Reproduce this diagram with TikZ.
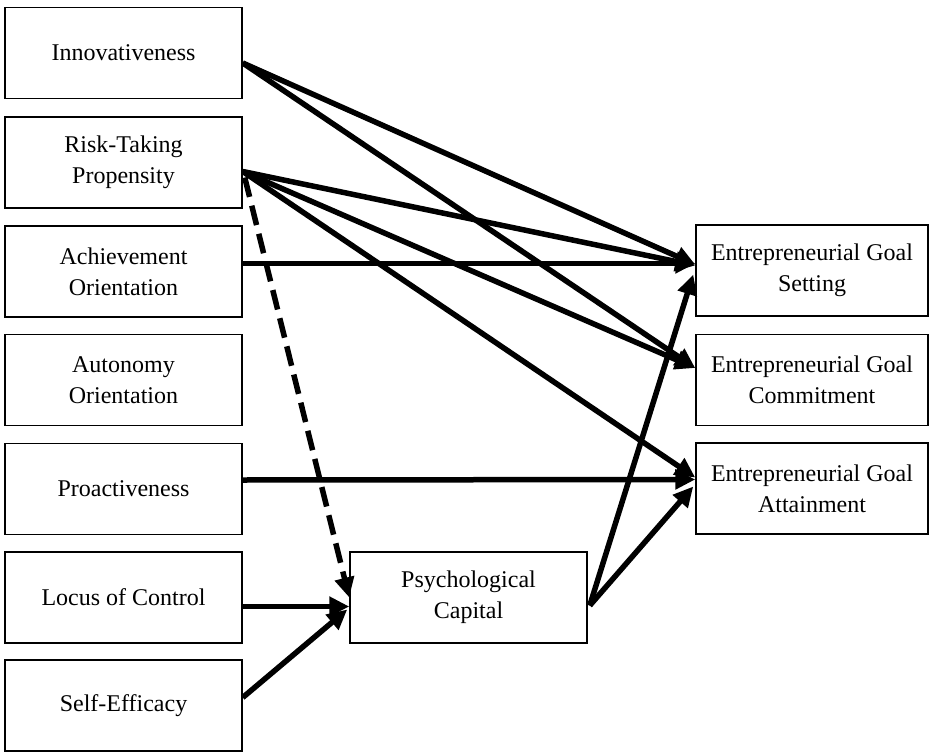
\documentclass[tikz,border=0pt]{standalone}
\usepackage{fontspec}
\setmainfont{Liberation Serif}
\usetikzlibrary{arrows.meta,calc}
\begin{document}
\begin{tikzpicture}[x=1pt,y=-1pt,
  box/.style={draw, line width=1.5pt, minimum width=237pt, minimum height=91pt, align=center, inner sep=0pt, font=\fontsize{24}{31}\selectfont},
  rbox/.style={box, minimum width=232pt},
  arr/.style={line width=5.5pt, -{Triangle[length=20pt,width=19pt]}},
  darr/.style={arr, dash pattern=on 20pt off 9pt}]
\useasboundingbox (0,0) rectangle (929,752);
\node[box] (inn) at (123.5,53) {Innovativeness};
\node[box] (risk) at (123.5,162.5) {Risk-Taking\\Propensity};
\node[box] (ach) at (123.5,271.5) {Achievement\\Orientation};
\node[box] (aut) at (123.5,380) {Autonomy\\Orientation};
\node[box] (pro) at (123.5,489) {Proactiveness};
\node[box] (loc) at (123.5,597.5) {Locus of Control};
\node[box] (se) at (123.5,705.5) {Self-Efficacy};
\node[box] (pc) at (468.5,597.5) {Psychological\\Capital};
\node[rbox] (egs) at (812,270.5) {Entrepreneurial Goal\\Setting};
\node[rbox] (egc) at (812,380) {Entrepreneurial Goal\\Commitment};
\node[rbox] (ega) at (812,488.5) {Entrepreneurial Goal\\Attainment};
% Innovativeness
\draw[arr] ($(inn.east)+(0,10)$) -- ($(egs.west)+(0,-6)$);
\draw[arr] ($(inn.east)+(0,10)$) -- ($(egc.west)+(0,-12)$);
% Risk-Taking
\draw[arr] ($(risk.east)+(0,9)$) -- ($(egs.west)+(0,-5)$);
\draw[arr] ($(risk.east)+(0,9)$) -- ($(egc.west)+(0,-12)$);
\draw[arr] ($(risk.east)+(0,9)$) -- ($(ega.west)+(0,-11)$);
\draw[darr] ($(risk.east)+(2,15)$) -- ($(pc.west)+(0,0)$);
% Achievement
\draw[arr] ($(ach.east)+(0,-8)$) -- ($(egs.west)+(0,-7)$);
% Proactiveness
\draw[arr] ($(pro.east)+(0,-9)$) -- ($(ega.west)+(0,-9)$);
% Locus, Self-Efficacy
\draw[arr] ($(loc.east)+(0,9)$) -- ($(pc.west)+(0,9)$);
\draw[arr] ($(se.east)+(0,-8)$) -- ($(pc.west)+(-2,12)$);
% Psychological Capital
\draw[arr] ($(pc.east)+(2,8)$) -- ($(egs.west)+(-2,4)$);
\draw[arr] ($(pc.east)+(2,8)$) -- ($(ega.west)+(-2,-2)$);
\end{tikzpicture}
\end{document}
